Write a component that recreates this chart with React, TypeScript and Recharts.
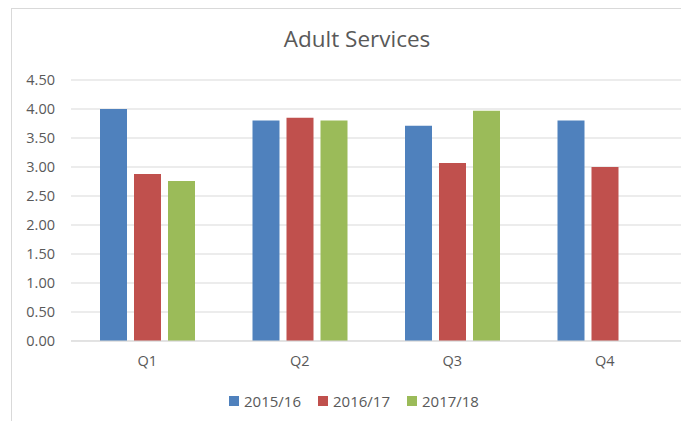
import { BarChart, Bar, XAxis, YAxis, CartesianGrid, Legend } from 'recharts';

const quarters = ['Q1', 'Q2', 'Q3', 'Q4'];
const fy1516 = [4.0, 3.8, 3.71, 3.8];
const fy1617 = [2.88, 3.85, 3.07, 3.0];
const fy1718 = [2.76, 3.8, 3.97, null];
const yTicks = [0, 0.5, 1, 1.5, 2, 2.5, 3, 3.5, 4, 4.5];

const data = quarters.map((q, i) => ({
  name: q,
  '2015/16': fy1516[i],
  '2016/17': fy1617[i],
  '2017/18': fy1718[i],
}));

const font = '"Open Sans", "Liberation Sans", sans-serif';
const textColor = '#595959';

function LegendContent(props: any) {
  const items = props.payload || [];
  return (
    <div
      style={{
        display: 'flex',
        justifyContent: 'center',
        paddingLeft: 32,
        fontFamily: font,
        fontSize: 15,
        color: textColor,
        lineHeight: '20px',
      }}
    >
      {items.map((it: any) => (
        <div key={it.value} style={{ display: 'flex', alignItems: 'center', marginRight: 17 }}>
          <span style={{ width: 10, height: 10, background: it.color, marginRight: 5, display: 'inline-block' }} />
          <span>{it.value}</span>
        </div>
      ))}
    </div>
  );
}

export default function App() {
  return (
    <div
      style={{
        position: 'relative',
        marginLeft: 3,
        width: 677,
        height: 412,
        borderTop: '1px solid #d9d9d9',
        borderLeft: '1px solid #d9d9d9',
        background: '#fff',
      }}
    >
      <div
        style={{
          position: 'absolute',
          top: 19,
          left: 0,
          width: 690,
          textAlign: 'center',
          fontFamily: font,
          fontSize: 22.5,
          lineHeight: '22px',
          color: textColor,
        }}
      >
        Adult Services
      </div>
      <BarChart
        width={677}
        height={412}
        data={data}
        margin={{ top: 71, right: 8, left: 0, bottom: 30 }}
        barSize={27}
        barGap={7}
      >
        <CartesianGrid vertical={false} stroke="#d9d9d9" strokeWidth={1.2} />
        <XAxis
          dataKey="name"
          height={30}
          tickSize={0}
          tickMargin={15}
          axisLine={{ stroke: '#d9d9d9' }}
          tick={{ fill: textColor, fontSize: 14.5, fontFamily: font }}
        />
        <YAxis
          width={59}
          domain={[0, 4.5]}
          ticks={yTicks}
          interval={0}
          tickFormatter={(v: number) => v.toFixed(2)}
          axisLine={false}
          tickSize={0}
          tickMargin={16}
          tick={{ fill: textColor, fontSize: 14.5, fontFamily: font }}
        />
        <Legend height={20} wrapperStyle={{ bottom: 10 }} content={<LegendContent />} />
        <Bar dataKey="2015/16" fill="#4f81bd" isAnimationActive={false} />
        <Bar dataKey="2016/17" fill="#c0504d" isAnimationActive={false} />
        <Bar dataKey="2017/18" fill="#9bbb59" isAnimationActive={false} />
      </BarChart>
    </div>
  );
}
